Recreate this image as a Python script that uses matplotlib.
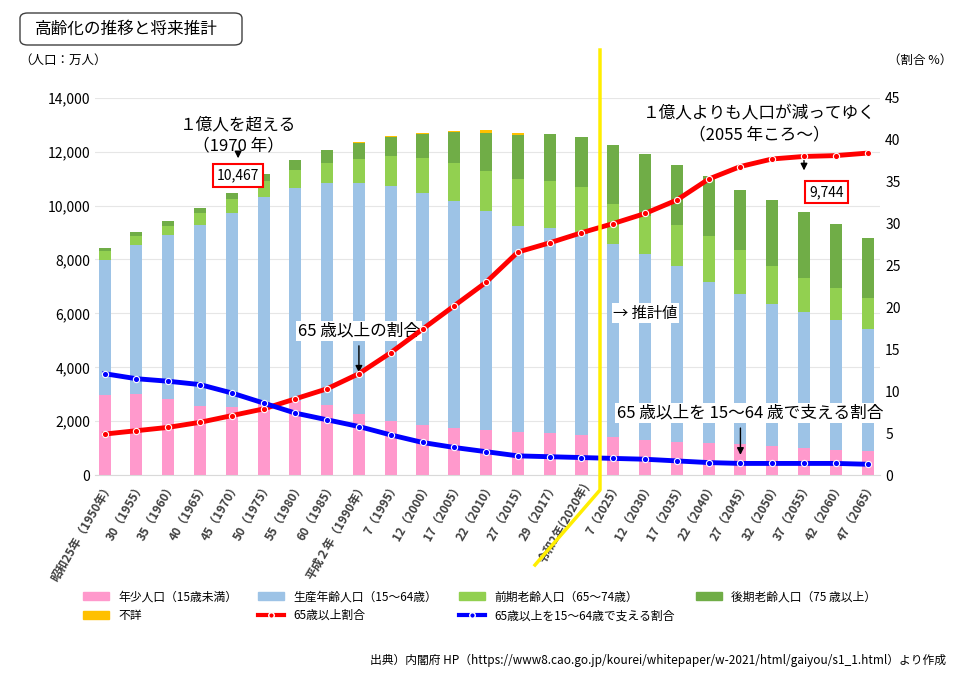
import matplotlib
matplotlib.use("Agg")
import matplotlib.pyplot as plt
from matplotlib.patches import FancyBboxPatch, Patch
from matplotlib.lines import Line2D
import numpy as np

plt.rcParams['font.family'] = ['Noto Sans CJK JP', 'DejaVu Sans']

labels = ["昭和25年（1950年）", "30（1955）", "35（1960）", "40（1965）", "45（1970）", "50（1975）",
          "55（1980）", "60（1985）", "平成２年（1990年）", "7（1995）", "12（2000）", "17（2005）",
          "22（2010）", "27（2015）", "29（2017）", "令和2年(2020年)", "7（2025）", "12（2030）",
          "17（2035）", "22（2040）", "27（2045）", "32（2050）", "37（2055）", "42（2060）", "47（2065）"]
young = [2979, 3012, 2843, 2553, 2515, 2722, 2751, 2603, 2254, 2001, 1847, 1752, 1680, 1595, 1559, 1503,
         1407, 1321, 1246, 1194, 1138, 1077, 1012, 951, 898]
working = [5017, 5517, 6047, 6744, 7212, 7581, 7883, 8251, 8590, 8716, 8622, 8409, 8103, 7629, 7596, 7449,
           7170, 6875, 6494, 5978, 5584, 5275, 5028, 4793, 4529]
old1 = [309, 338, 364, 439, 516, 590, 672, 739, 892, 1109, 1301, 1407, 1517, 1755, 1767, 1747,
        1497, 1428, 1522, 1681, 1643, 1424, 1258, 1202, 1133]
old2 = [106, 138, 163, 187, 224, 284, 366, 471, 597, 717, 901, 1160, 1407, 1632, 1748, 1860,
        2180, 2288, 2260, 2239, 2227, 2417, 2446, 2387, 2248]
unknown = [0, 20, 0, 0, 0, 0, 0, 0, 15, 20, 22, 49, 99, 98, 0, 0,
           0, 0, 0, 0, 0, 0, 0, 0, 0]
ratio65 = [4.9, 5.3, 5.7, 6.3, 7.1, 7.9, 9.1, 10.3, 12.1, 14.6, 17.4, 20.2, 23.0, 26.6, 27.7, 28.9,
           30.0, 31.2, 32.8, 35.3, 36.8, 37.7, 38.0, 38.1, 38.4]
support = [12.1, 11.5, 11.2, 10.8, 9.8, 8.6, 7.4, 6.6, 5.8, 4.8, 3.9, 3.3, 2.8, 2.3, 2.2, 2.1,
           2.0, 1.9, 1.7, 1.5, 1.4, 1.4, 1.4, 1.4, 1.3]

c_young, c_work, c_o1, c_o2, c_unk = "#ff99cc", "#9dc3e6", "#92d050", "#70ad47", "#ffc000"

fig = plt.figure(figsize=(9.6, 6.74), dpi=100)
ax = fig.add_axes([0.099, 0.295, 0.818, 0.56])
x = np.arange(len(labels))
w = 0.38
b = np.zeros(len(x))
for vals, c in [(young, c_young), (working, c_work), (old1, c_o1), (old2, c_o2), (unknown, c_unk)]:
    ax.bar(x, vals, w, bottom=b, color=c, zorder=2)
    b += np.array(vals)
ax.set_ylim(0, 14000)
ax.set_xlim(-0.3, len(x) - 0.6)
ax.set_yticks(range(0, 14001, 2000))
ax.set_yticklabels([f"{v:,}" for v in range(0, 14001, 2000)], fontsize=10)
ax.yaxis.grid(True, color="#e6e6e6", zorder=0)
ax.set_axisbelow(True)
for s in ["top", "right", "left"]:
    ax.spines[s].set_visible(False)
ax.spines["bottom"].set_color("#d9d9d9")
ax.tick_params(length=0)
ax.set_xticks(x)
ax.set_xticklabels(labels, rotation=60, ha="right", rotation_mode="anchor", fontsize=8.5,
                   fontweight="bold", color="#404040", style="italic")

ax2 = ax.twinx()
ax2.set_ylim(0, 45)
ax2.set_yticks(range(0, 46, 5))
ax2.tick_params(length=0, labelsize=10)
for s in ax2.spines.values():
    s.set_visible(False)
ax2.plot(x, ratio65, color="red", lw=3.5, marker="o", ms=4.5, mfc="red", mec="white", mew=0.8, zorder=5)
ax2.plot(x, support, color="blue", lw=3.5, marker="o", ms=4.5, mfc="blue", mec="white", mew=0.8, zorder=5)

# yellow divider
fig.add_artist(Line2D([600/960, 600/960, 535/960], [1-50/674, 1-490/674, 1-565/674],
                      color="#ffee00", lw=2.5))

# annotations
ax.text(4.2, 12600, "１億人を超える\n（1970 年）", ha="center", va="center", fontsize=12, linespacing=1.3)
ax.annotate("", xy=(4.2, 11650), xytext=(4.2, 12050), arrowprops=dict(arrowstyle="-|>", color="black", lw=1))
ax.text(4.2, 11110, "10,467", ha="center", va="center", fontsize=10,
        bbox=dict(boxstyle="square,pad=0.3", fc="white", ec="red", lw=1.5))
ax.text(8.0, 5350, "65 歳以上の割合", ha="center", va="center", fontsize=12,
        bbox=dict(boxstyle="square,pad=0.1", fc="white", ec="none"))
ax.annotate("", xy=(8.0, 3700), xytext=(8.0, 4900), arrowprops=dict(arrowstyle="-|>", color="black", lw=1))
ax.text(16.0, 6000, "→ 推計値", ha="left", va="center", fontsize=11,
        bbox=dict(boxstyle="square,pad=0.1", fc="white", ec="none"))
ax.text(20.6, 13000, "１億人よりも人口が減ってゆく\n（2055 年ころ～）", ha="center", va="center",
        fontsize=12, linespacing=1.3)
ax.annotate("", xy=(22.0, 11200), xytext=(22.0, 11900), arrowprops=dict(arrowstyle="-|>", color="black", lw=1))
ax.text(22.7, 10500, "9,744", ha="center", va="center", fontsize=10,
        bbox=dict(boxstyle="square,pad=0.3", fc="white", ec="red", lw=1.5))
ax.text(20.3, 2300, "65 歳以上を 15～64 歳で支える割合", ha="center", va="center", fontsize=12,
        bbox=dict(boxstyle="square,pad=0.1", fc="white", ec="none"))
ax.annotate("", xy=(20.0, 650), xytext=(20.0, 1850), arrowprops=dict(arrowstyle="-|>", color="black", lw=1))

fig.text(0.02, 0.905, "（人口：万人）", fontsize=9)
fig.text(0.925, 0.905, "（割合 %）", fontsize=9)

# title box
fig.add_artist(FancyBboxPatch((20/960, 1-45/674), 222/960, 32/674, boxstyle="round,pad=0,rounding_size=0.008",
                              transform=fig.transFigure, fc="white", ec="#404040", lw=1))
fig.text(35/960, 1-29/674, "高齢化の推移と将来推計", fontsize=12, va="center")

handles = [Patch(color=c_young), Patch(color=c_unk), Patch(color=c_work),
           Line2D([], [], color="red", lw=3, marker="o", ms=4, mfc="red", mec="white"),
           Patch(color=c_o1),
           Line2D([], [], color="blue", lw=3, marker="o", ms=4, mfc="blue", mec="white"),
           Patch(color=c_o2)]
names = ["年少人口（15歳未満）", "不詳", "生産年齢人口（15～64歳）", "65歳以上割合",
         "前期老齢人口（65～74歳）", "65歳以上を15～64歳で支える割合", "後期老齢人口（75 歳以上）"]
fig.legend(handles, names, ncol=4, loc="upper left", bbox_to_anchor=(0.075, 0.14), frameon=False,
           fontsize=8.5, handlelength=2.2, handleheight=0.6, columnspacing=1.8, labelspacing=0.5)
fig.text(0.985, 0.015, "出典）内閣府 HP（https://www8.cao.go.jp/kourei/whitepaper/w-2021/html/gaiyou/s1_1.html）より作成",
         ha="right", fontsize=8.5)
fig.savefig("out.png", dpi=100)
